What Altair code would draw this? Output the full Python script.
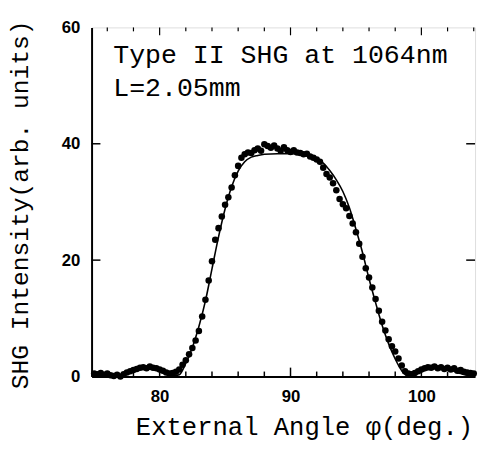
import altair as alt
import pandas as pd

# measured points (angle in deg, SHG intensity)
meas_x = [75.0, 75.25, 75.5, 75.75, 76.0, 76.25, 76.5, 76.75, 77.0, 77.25, 77.5, 77.75,
          78.0, 78.25, 78.5, 78.75, 79.0, 79.25, 79.5, 79.75, 80.0, 80.25, 80.5, 80.75,
          81.0, 81.25, 81.5, 81.75, 82.0, 82.25, 82.5, 82.75, 83.0, 83.25, 83.5, 83.75,
          84.0, 84.25, 84.5, 84.75, 85.0, 85.25, 85.5, 85.75, 86.0, 86.25, 86.5, 86.75,
          87.0, 87.25, 87.5, 87.75, 88.0, 88.25, 88.5, 88.75, 89.0, 89.25, 89.5, 89.75,
          90.0, 90.25, 90.5, 90.75, 91.0, 91.25, 91.5, 91.75, 92.0, 92.25, 92.5, 92.75,
          93.0, 93.25, 93.5, 93.75, 94.0, 94.25, 94.5, 94.75, 95.0, 95.25, 95.5, 95.75,
          96.0, 96.25, 96.5, 96.75, 97.0, 97.25, 97.5, 97.75, 98.0, 98.25, 98.5, 98.75,
          99.0, 99.25, 99.5, 99.75, 100.0, 100.25, 100.5, 100.75, 101.0, 101.25, 101.5,
          101.75, 102.0, 102.25, 102.5, 102.75, 103.0, 103.25, 103.5, 103.75, 104.0]
meas_y = [0.5, 0.4, 0.6, 0.3, 0.5, 0.2, 0.1, 0.3, 0.0, 0.4, 0.7, 0.9,
          1.1, 1.3, 1.5, 1.6, 1.4, 1.7, 1.5, 1.4, 1.2, 1.0, 0.7, 0.5,
          0.6, 0.8, 1.2, 2.0, 2.8, 3.8, 4.9, 6.2, 7.8, 10.3, 13.2, 16.5,
          19.8, 23.5, 25.5, 27.5, 29.5, 30.8, 32.5, 34.6, 36.2, 37.6, 38.2, 38.5,
          38.4, 38.9, 39.2, 38.8, 39.9, 39.6, 39.3, 39.7, 39.2, 38.8, 39.4, 38.9,
          38.6, 38.9, 38.5, 38.4, 38.2, 38.3, 37.8, 37.6, 37.3, 36.9, 35.9, 34.8,
          34.2, 33.2, 32.0, 30.5, 29.6, 28.9, 27.6, 26.3, 24.8, 22.8, 20.6, 18.6,
          17.0, 15.3, 13.3, 11.3, 9.4, 7.9, 6.4, 5.2, 4.3, 3.1, 1.9, 0.9,
          0.5, 0.4, 0.6, 0.9, 1.2, 1.4, 1.6, 1.5, 1.7, 1.4, 1.6,
          1.3, 1.5, 1.2, 1.4, 1.0, 1.1, 0.8, 0.7, 0.6, 0.5]

# fitted curve
fit_x = [75.0, 76.0, 77.0, 77.5, 78.0, 78.5, 79.0, 79.5, 80.0, 80.5, 81.0, 81.5,
         82.0, 82.5, 83.0, 83.5, 84.0, 84.5, 85.0, 85.5, 86.0, 86.5, 87.0, 87.5,
         88.0, 89.0, 90.0, 91.0, 91.5, 92.0, 92.5, 93.0, 93.5, 94.0, 94.5, 95.0,
         95.5, 96.0, 96.5, 97.0, 97.5, 98.0, 98.5, 99.0, 99.5, 100.0, 100.5, 101.0,
         101.5, 102.0, 102.5, 103.0, 103.5, 104.0]
fit_y = [0.2, 0.1, 0.2, 0.5, 0.9, 1.2, 1.3, 1.2, 0.9, 0.4, 0.1, 0.3,
         2.3, 5.0, 8.6, 13.0, 18.5, 24.0, 28.8, 32.6, 35.3, 36.9, 37.7, 38.0,
         38.2, 38.3, 38.3, 38.2, 38.0, 37.5, 36.7, 35.4, 33.8, 31.8, 29.0, 25.3,
         21.3, 16.8, 12.7, 8.8, 5.6, 3.0, 1.0, 0.1, 0.3, 0.8, 1.2, 1.4,
         1.4, 1.2, 0.9, 0.5, 0.2, 0.1]

x_labels = [80, 90, 100]
y_labels = [0, 20, 40, 60]
x_minor_ticks = [76, 78, 82, 84, 86, 88, 92, 94, 96, 98, 102, 104]
x_major_ticks = [80, 90, 100]
y_major_ticks = [20, 40]

annotation = ["Type II SHG at 1064nm", "L=2.05mm"]

W, H = 390, 355
XDOM = [74.8, 104.1]
YDOM = [0, 60]

meas = pd.DataFrame({"x": meas_x, "y": meas_y})
fit = pd.DataFrame({"x": fit_x, "y": fit_y})
xmin_df = pd.DataFrame({"x": x_minor_ticks})
xmaj_df = pd.DataFrame({"x": x_major_ticks})
ymaj_df = pd.DataFrame({"y": y_major_ticks})

xs = alt.Scale(domain=XDOM, nice=False, zero=False)
ys = alt.Scale(domain=YDOM, nice=False, zero=False)

x_axis = alt.Axis(values=x_labels, tickSize=0, grid=False, domain=True,
                  domainColor="black", domainWidth=2,
                  labelFont="Liberation Sans", labelFontWeight="bold",
                  labelFontSize=17, labelColor="black", labelPadding=12,
                  title="External Angle φ(deg.)", titleFont="Liberation Mono",
                  titleFontSize=26, titleFontWeight="normal", titleColor="black",
                  titleX=216, titleY=59, titleBaseline="alphabetic", titleAlign="center")
y_axis = alt.Axis(values=y_labels, tickSize=0, grid=False, domain=True,
                  domainColor="black", domainWidth=2,
                  labelFont="Liberation Sans", labelFontWeight="bold",
                  labelFontSize=17, labelColor="black", labelPadding=12,
                  title="SHG Intensity(arb. units)", titleFont="Liberation Mono",
                  titleFontSize=25, titleFontWeight="normal", titleColor="black",
                  titleX=-65, titleY=180, titleAngle=270,
                  titleBaseline="alphabetic", titleAlign="center")

points = alt.Chart(meas).mark_circle(size=44, color="black", opacity=1).encode(
    x=alt.X("x:Q", scale=xs, axis=x_axis),
    y=alt.Y("y:Q", scale=ys, axis=y_axis),
)
line = alt.Chart(fit).mark_line(color="black", strokeWidth=1.6, interpolate="monotone").encode(
    x=alt.X("x:Q", scale=xs), y=alt.Y("y:Q", scale=ys)
)

bot_minor = alt.Chart(xmin_df).mark_rule(color="black", strokeWidth=1.5).encode(
    x="x:Q", y=alt.value(H), y2=alt.value(H - 5))
bot_major = alt.Chart(xmaj_df).mark_rule(color="black", strokeWidth=1.5).encode(
    x="x:Q", y=alt.value(H), y2=alt.value(H - 9))
top_minor = alt.Chart(xmin_df).mark_rule(color="black", strokeWidth=1.2).encode(
    x="x:Q", y=alt.value(0), y2=alt.value(4))
top_major = alt.Chart(xmaj_df).mark_rule(color="black", strokeWidth=1.2).encode(
    x="x:Q", y=alt.value(0), y2=alt.value(8))
left_ticks = alt.Chart(ymaj_df).mark_rule(color="black", strokeWidth=1.5).encode(
    y="y:Q", x=alt.value(0), x2=alt.value(9))
right_ticks = alt.Chart(ymaj_df).mark_rule(color="black", strokeWidth=1.5).encode(
    y="y:Q", x=alt.value(W), x2=alt.value(W - 9))

label = alt.Chart(meas).mark_text(
    font="Liberation Mono", fontSize=27, color="black", align="left",
    baseline="alphabetic", lineHeight=34
).encode(x=alt.value(22), y=alt.value(36), text=alt.value(annotation))

chart = alt.layer(
    line, points, bot_minor, bot_major, top_minor, top_major, left_ticks, right_ticks,
    label.transform_filter("datum.x == 75")
).properties(
    width=W, height=H,
    autosize=alt.AutoSizeParams(type="none"),
    padding={"left": 85, "top": 16, "right": 3, "bottom": 70},
).configure_view(stroke="black", strokeWidth=1.5).configure(background="white")

chart.save("out.html", embed_options={"renderer": "svg", "actions": False})
